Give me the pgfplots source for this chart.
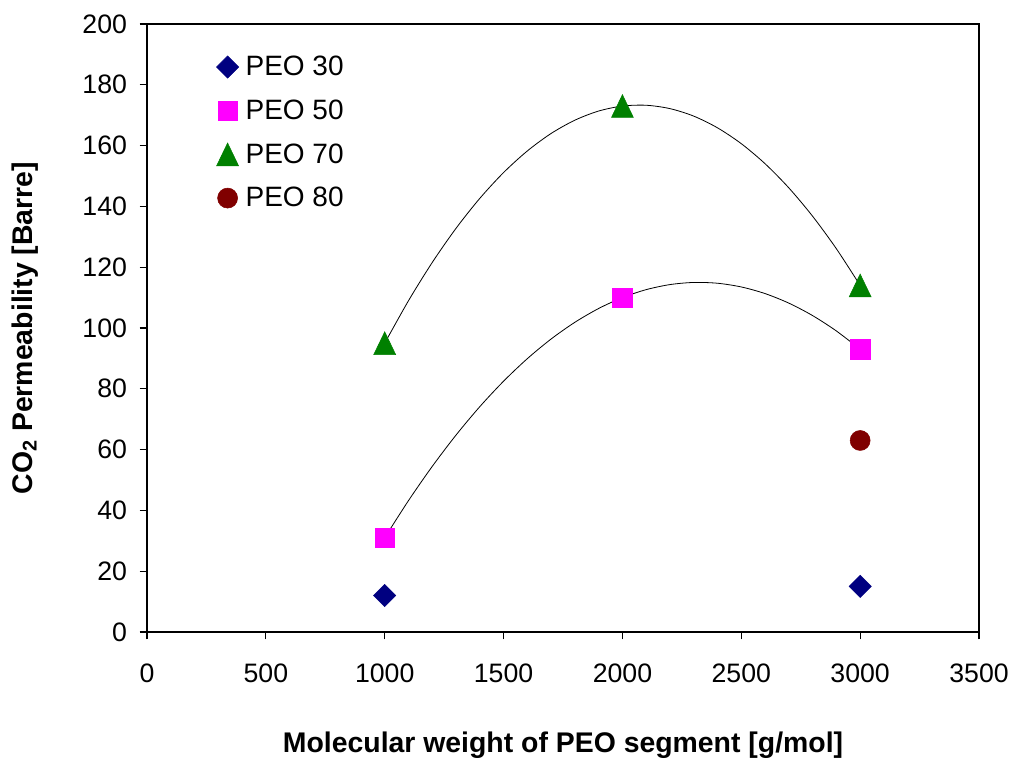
\documentclass[border=0pt]{standalone}
\usepackage{fontspec}
\setmainfont{Liberation Sans}
\usepackage{pgfplots}
\pgfplotsset{compat=1.18}
\definecolor{cA}{RGB}{0,0,128}
\definecolor{cB}{RGB}{255,0,255}
\definecolor{cC}{RGB}{0,128,0}
\definecolor{cD}{RGB}{128,0,0}
\begin{document}
\begin{tikzpicture}
\begin{axis}[
  scale only axis, width=624pt, height=456pt,
  xmin=0, xmax=3500, ymin=0, ymax=200,
  xtick={0,500,...,3500}, ytick={0,20,...,200},
  xtick pos=lower, ytick pos=left,
  tick align=outside, major tick length=5.5pt,
  tick style={black, line width=0.8pt},
  axis line style={black, line width=1pt},
  /pgf/number format/assume math mode=true,
  /pgf/number format/set thousands separator={},
  ticklabel style={font=\fontsize{20}{22}\selectfont},
  xticklabel style={anchor=center, yshift=-25.5pt},
  yticklabel style={anchor=east, xshift=-6pt},
  xlabel={\bfseries Molecular weight of PEO segment [g/mol]},
  ylabel={\bfseries CO\textsubscript{2} Permeability [Barre]},
  label style={font=\fontsize{21.3}{23}\selectfont},
  xlabel style={at={(rel axis cs:0.5,0)}, anchor=center, yshift=-85pt},
  ylabel style={at={(rel axis cs:0,0.5)}, anchor=center, yshift=91.5pt},
  legend style={draw=none, fill=none, at={(rel axis cs:0,1)}, anchor=north west,
    xshift=48.75pt, yshift=-20pt, row sep=12.6pt,
    font=\fontsize{21}{23}\selectfont},
  legend cell align=left,
  legend image code/.code={\path[draw=none, fill=none] (-8.5pt,0pt) -- (11.5pt,0pt); \draw[#1] plot coordinates {(0pt,0pt)};},
]
\addplot[forget plot, black, line width=0.6pt, smooth] coordinates {
(1000,31) (1100,43.22) (1200,54.48) (1300,64.78) (1400,74.12) (1500,82.5)
(1600,89.92) (1700,96.38) (1800,101.88) (1900,106.42) (2000,110)
(2100,112.62) (2200,114.28) (2300,114.98) (2400,114.72) (2500,113.5)
(2600,111.32) (2700,108.18) (2800,104.08) (2900,99.02) (3000,93)};
\addplot[forget plot, black, line width=0.6pt, smooth] coordinates {
(1000,95) (1100,108.97) (1200,121.56) (1300,132.79) (1400,142.64) (1500,151.13)
(1600,158.24) (1700,163.99) (1800,168.36) (1900,171.37) (2000,173)
(2100,173.27) (2200,172.16) (2300,169.69) (2400,165.84) (2500,160.63)
(2600,154.04) (2700,146.09) (2800,136.76) (2900,126.07) (3000,114)};
\addplot[only marks, mark=square*, mark size=5.9pt, mark options={rotate=45, fill=cA, draw=cA}] coordinates {(1000,12) (3000,15)};
\addlegendentry{PEO 30}
\addplot[only marks, mark=square*, mark size=7.3pt, mark options={fill=cB, draw=cB}] coordinates {(1000,31) (2000,110) (3000,93)};
\addlegendentry{PEO 50}
\addplot[only marks, mark=triangle*, mark size=9.5pt, mark options={yshift=-2.85pt, yscale=1.2, fill=cC, draw=cC}] coordinates {(1000,95) (2000,173) (3000,114)};
\addlegendentry{PEO 70}
\addplot[only marks, mark=*, mark size=7.5pt, mark options={fill=cD, draw=cD}] coordinates {(3000,63)};
\addlegendentry{PEO 80}
\end{axis}
\pgfresetboundingbox
\path[use as bounding box] (-110.25pt,-97.7pt) rectangle (651.75pt,474pt);
\end{tikzpicture}
\end{document}
